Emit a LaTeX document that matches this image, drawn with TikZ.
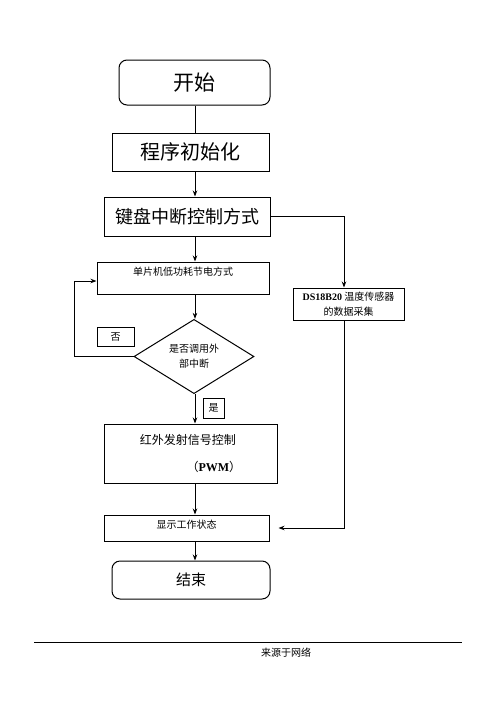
\documentclass[tikz,border=0pt]{standalone}
\usepackage{fontspec}
\setmainfont{Liberation Serif}
\newfontfamily\cjk{Noto Sans CJK SC}
\usetikzlibrary{shapes.geometric,arrows.meta}
\tikzset{
    box/.style={draw, rectangle, inner sep=0pt, line width=1pt},
    startstop/.style={box, rounded corners=8pt},
    decide/.style={draw, diamond, inner sep=0pt, line width=1pt,
        align=center, font=\cjk\fontsize{10}{15}\selectfont},
    tag/.style={box, font=\cjk\fontsize{10}{12}\selectfont},
    small/.style={font=\cjk\fontsize{10}{15}\selectfont}
}

\begin{document}
\begin{tikzpicture}[x=1pt,y=-1pt,>={Stealth[length=6pt,width=4.5pt]},line width=1pt]
\useasboundingbox (0,0) rectangle (496,702);
\coordinate (spine) at (195,0);
\coordinate (ds) at (344,0);
\coordinate (back) at (74,281);
% main column
\node(S) [startstop,minimum width=151pt,minimum height=45pt,font=\cjk\fontsize{21}{21}\selectfont] at (194.5,82.5) {开始};
\node(I) [box,minimum width=157pt,minimum height=38pt,font=\cjk\fontsize{20}{20}\selectfont] at (190.5,152) {程序初始化};
\node(K) [box,minimum width=166pt,minimum height=39pt,font=\cjk\fontsize{18}{18}\selectfont] at (187,216.5) {键盘中断控制方式};
\node(M) [box,small,minimum width=172pt,text height=13.8pt,text depth=18.2pt] at (183,278) {单片机低功耗节电方式};
\node(D) [decide,minimum width=120pt,minimum height=71pt] at (194,356.5) {是否调用外\\部中断};
\node(N) [tag,minimum width=37pt,minimum height=19pt] at (115.5,336.5) {否};
\node(Y) [tag,minimum width=21pt,minimum height=20pt] at (213.5,408) {是};
\node(R) [box,minimum width=173pt,minimum height=59pt,align=left,font=\cjk\fontsize{12}{27}\selectfont] at (190.5,453.5) {红外发射信号控制\\\hspace*{3.9em}（{\rmfamily\bfseries PWM}）};
\node(P) [box,small,minimum width=165pt,text height=13.8pt,text depth=12.2pt] at (186.5,528) {显示工作状态};
\node(E) [startstop,minimum width=158pt,minimum height=38pt,font=\cjk\fontsize{15}{15}\selectfont] at (191,580) {结束};
% side branch
\node(T) [box,small,align=center,minimum width=111pt,minimum height=32pt] at (348.5,304) {{\rmfamily\bfseries DS18B20} 温度传感器\\的数据采集};
% connectors
\draw    (S.south -| spine) -- (I.north -| spine);
\draw[->] (I.south -| spine) -- (K.north -| spine);
\draw[->] (K.south -| spine) -- (M.north -| spine);
\draw[->] (M.south -| spine) -- (D.north -| spine);
\draw[->] (D.south -| spine) -- (R.north -| spine);
\draw[->] (R.south -| spine) -- (P.north -| spine);
\draw[->] (P.south -| spine) -- (E.north -| spine);
\draw[->] (D.west) -| (back) -- (back -| M.west);
\draw[->] (K.east) -| (T.north -| ds);
\draw[->,shorten >=9pt] (T.south -| ds) |- (P.east);
% footer
\coordinate (f1) at (34,642);
\coordinate (f2) at (462,642);
\draw (f1) -- (f2);
\node(F) [small] at (286,653) {来源于网络};
\end{tikzpicture}
\end{document}
